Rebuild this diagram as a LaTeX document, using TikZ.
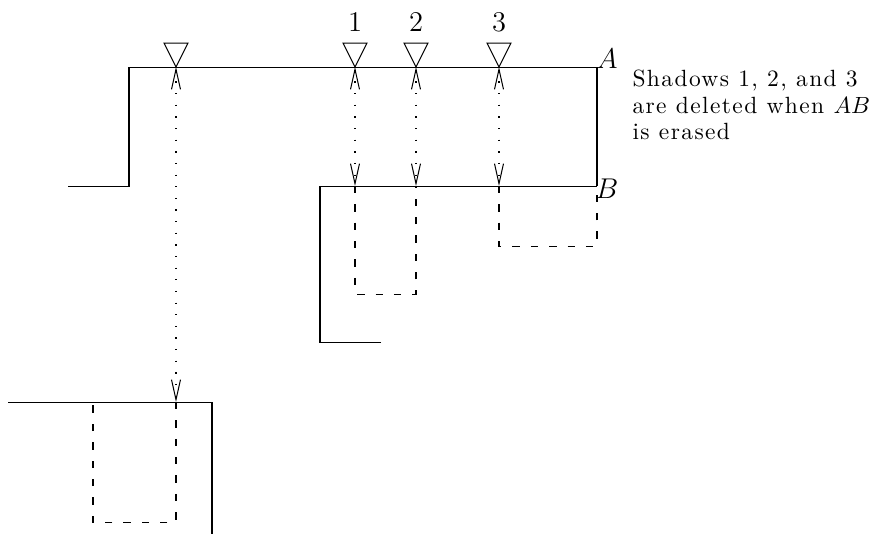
\documentclass[tikz,border=0pt]{standalone}
\usepackage{fix-cm}
\usepackage{fontspec}
\newfontfamily\notefont{lmroman10-regular.otf}[LetterSpace=6]
\usetikzlibrary{arrows.meta}

\begin{document}
\begin{tikzpicture}[x=0.49pt, y=-0.49pt, line width=0.5pt,
  shadow/.style={dash pattern=on 0.6pt off 5.1pt,
    {Straight Barb[length=9.8pt,width=4.4pt]}-{Straight Barb[length=9.8pt,width=4.4pt]}},
  erased/.style={dash pattern=on 3.6pt off 5.4pt},
  bigfont/.style={font=\fontsize{14}{16}\selectfont}]
\useasboundingbox (0,0) rectangle (882,534);
% edges
\coordinate (A) at (597,67);
\coordinate (B) at (597,186);
\draw (68,186) -- (129,186) -- (129,67) -- (A) -- (B);
\draw (381,342) -- (320,342) -- (320,186) -- (B);
\draw (8,402) -- (212,402) -- (212,534);
% viewpoints and their shadows
\foreach \n/\x/\y in {0/176/402, 1/355/186, 2/416/186, 3/499/186} {
  \coordinate (top\n) at (\x,67);
  \coordinate (bot\n) at (\x,\y);
  \draw (top\n) -- (\x-12,43) -- (\x+12,43) -- cycle;
}
\foreach \n in {0,...,3}
  \draw[shadow] (top\n) -- (bot\n);
\draw[erased] (bot0) -- (176,522) -- (93,522) -- (93,402);
\draw[erased] (bot1) -- (355,294) -- (416,294) -- (bot2);
\draw[erased] (bot3) -- (499,246) -- (597,246) -- (B);
% labels
\node[bigfont] (l1) at (355,22) {1};
\node[bigfont] (l2) at (416,22) {2};
\node[bigfont] (l3) at (499,22) {3};
\node[bigfont] (la) at (607,59) {$A$};
\node[bigfont] (lb) at (607,189) {$B$};
\node[anchor=north west, align=left, inner sep=0pt,
  font=\fontsize{11.5}{13.2}\notefont] (note) at (632,69)
  {Shadows 1, 2, and 3\\are deleted when $AB$\\is erased};
\end{tikzpicture}
\end{document}
